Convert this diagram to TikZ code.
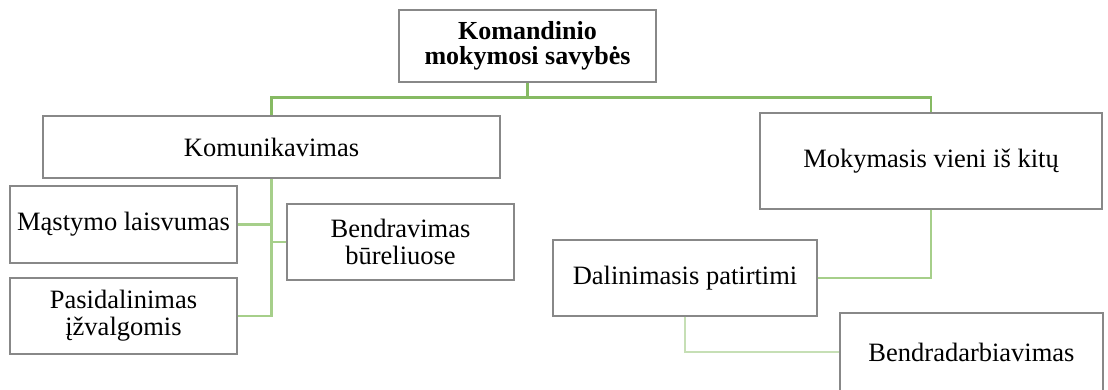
\documentclass[tikz,border=0pt]{standalone}
\usepackage{fontspec}
\setmainfont{Liberation Serif}
\definecolor{boxgray}{HTML}{888888}
\definecolor{linkA}{HTML}{86BA63}
\definecolor{linkB}{HTML}{A6CF8A}
\definecolor{linkC}{HTML}{C6DFB5}
\begin{document}
\begin{tikzpicture}[x=1pt,y=-1pt,
  box/.style={draw=boxgray, line width=1.4pt, fill=white, rectangle,
    inner sep=2pt, align=center, font=\fontsize{26.5}{27}\selectfont},
  linkone/.style={draw=linkA, line width=2.6pt},
  linktwo/.style={draw=linkB, line width=2.4pt},
  linkthree/.style={draw=linkC, line width=2.4pt}]
\useasboundingbox (0,0) rectangle (1108,390);

% boxes
\node[box, minimum width=257pt, minimum height=72pt, font=\fontsize{26}{25.5}\selectfont\bfseries]
  (top) at (527.5,46) {Komandinio\\mokymosi savybės};
\node[box, minimum width=457pt, minimum height=62pt] (kom) at (271.5,147) {Komunikavimas};
\node[box, minimum width=342pt, minimum height=96pt] (mok) at (931,161) {Mokymasis vieni iš kitų};
\node[box, minimum width=227pt, minimum height=77pt] (mas) at (123.5,224.5) {Mąstymo laisvumas};
\node[box, minimum width=227pt, minimum height=76pt] (ben) at (400.5,242) {Bendravimas\\būreliuose};
\node[box, minimum width=227pt, minimum height=76pt] (pas) at (123.5,316) {Pasidalinimas\\įžvalgomis};
\node[box, minimum width=264pt, minimum height=76pt] (dal) at (685,278) {Dalinimasis patirtimi};
\node[box, minimum width=263pt, minimum height=78pt] (bdb) at (971.5,352) {Bendradarbiavimas};

% connectors from the root
\draw[linkone] (top.south) -- ++(0,15) -| (kom.north);
\draw[linkone] (top.south) -- ++(0,15) -| (mok.north);

% connectors under Komunikavimas
\draw[linktwo] (kom.south) |- (pas.east);
\draw[linktwo] (mas.east) -- (mas.east -| kom.south);
\draw[linktwo] (ben.west) -- (ben.west -| kom.south);

% connectors under Mokymasis vieni iš kitų
\draw[linktwo] (mok.south) |- (dal.east);
\draw[linkthree] (dal.south) |- (bdb.west);
\end{tikzpicture}
\end{document}
